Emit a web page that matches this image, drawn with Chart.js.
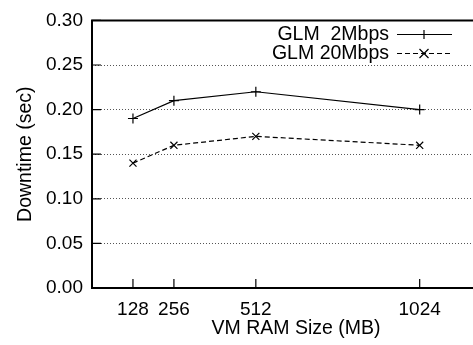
<!DOCTYPE html>
<html>
<head>
<meta charset="utf-8">
<script src="https://cdn.jsdelivr.net/npm/chart.js@4/dist/chart.umd.min.js"></script>
<style>
  html, body { margin: 0; padding: 0; background: #fff; overflow: hidden; }
  #wrap { width: 500px; height: 345px; }
</style>
</head>
<body>
<div id="wrap"><canvas id="downtimeChart" width="500" height="345"></canvas></div>
<script>
// data
const ramSizes = [128, 256, 512, 1024];
const glm2Mbps = [0.19, 0.21, 0.22, 0.20];
const glm20Mbps = [0.14, 0.16, 0.17, 0.16];
const seriesLabels = ['GLM  2Mbps', 'GLM 20Mbps'];
const yTicks = [0, 0.05, 0.10, 0.15, 0.20, 0.25, 0.30];

const FONT = 'Liberation Sans, Arial, Helvetica, sans-serif';

// frame, inward ticks and a gnuplot-like key
const gnuplotStyle = {
    id: 'gnuplotStyle',
    afterDraw: function(chart) {
        const ctx = chart.ctx;
        const a = chart.chartArea;
        const xs = chart.scales.x;
        const ys = chart.scales.y;
        ctx.save();

        // inward tick marks
        ctx.strokeStyle = '#000';
        ctx.lineWidth = 1.2;
        ctx.beginPath();
        yTicks.forEach(function(v) {
            const py = ys.getPixelForValue(v);
            ctx.moveTo(a.left, py);
            ctx.lineTo(a.left + 9, py);
        });
        ramSizes.forEach(function(v) {
            const px = xs.getPixelForValue(v);
            ctx.moveTo(px, a.bottom);
            ctx.lineTo(px, a.bottom - 9);
        });
        ctx.stroke();

        // frame (left, top, bottom)
        ctx.lineWidth = 2;
        ctx.beginPath();
        ctx.moveTo(a.right + 2, a.top);
        ctx.lineTo(a.left, a.top);
        ctx.lineTo(a.left, a.bottom);
        ctx.lineTo(a.right + 2, a.bottom);
        ctx.stroke();

        // key box
        ctx.fillStyle = '#fff';
        ctx.fillRect(271, 22, 192, 41);

        ctx.font = '19.5px ' + FONT;
        ctx.textAlign = 'right';
        ctx.textBaseline = 'middle';
        ctx.fillStyle = '#000';
        chart.data.datasets.forEach(function(ds, i) {
            const yy = 34.5 + i * 19;
            ctx.fillText(ds.label, 389, yy);
            ctx.strokeStyle = ds.borderColor;
            ctx.lineWidth = ds.borderWidth;
            ctx.setLineDash(ds.borderDash || []);
            ctx.beginPath();
            ctx.moveTo(397, yy);
            ctx.lineTo(452, yy);
            ctx.stroke();
            ctx.setLineDash([]);
            const r = 4.5;
            ctx.beginPath();
            if (ds.pointStyle === 'cross') {
                ctx.moveTo(424 - r, yy); ctx.lineTo(424 + r, yy);
                ctx.moveTo(424, yy - r); ctx.lineTo(424, yy + r);
            } else {
                ctx.moveTo(424 - r, yy - r); ctx.lineTo(424 + r, yy + r);
                ctx.moveTo(424 - r, yy + r); ctx.lineTo(424 + r, yy - r);
            }
            ctx.stroke();
        });
        ctx.restore();
    }
};

const ctx = document.getElementById('downtimeChart').getContext('2d');
const chart = new Chart(ctx, {
    type: 'line',
    data: {
        datasets: [{
            label: seriesLabels[0],
            data: ramSizes.map(function(x, i) { return { x: x, y: glm2Mbps[i] }; }),
            borderColor: '#000',
            borderWidth: 1.2,
            pointStyle: 'cross',
            pointRadius: 5,
            pointBorderColor: '#000',
            pointBorderWidth: 1.2,
            fill: false,
            tension: 0
        }, {
            label: seriesLabels[1],
            data: ramSizes.map(function(x, i) { return { x: x, y: glm20Mbps[i] }; }),
            borderColor: '#000',
            borderWidth: 1.2,
            borderDash: [5, 3],
            pointStyle: 'crossRot',
            pointRadius: 5,
            pointBorderColor: '#000',
            pointBorderWidth: 1.2,
            fill: false,
            tension: 0
        }]
    },
    options: {
        responsive: false,
        animation: false,
        layout: { autoPadding: false, padding: { top: 16, right: 0, left: 0, bottom: 0 } },
        scales: {
            x: {
                type: 'linear',
                min: 0,
                max: 1275,
                afterFit: function(s) {
                    s.height = 57;
                    s.paddingLeft = 0;
                    s.paddingRight = 0;
                },
                afterBuildTicks: function(s) {
                    s.ticks = ramSizes.map(function(v) { return { value: v }; });
                },
                grid: { display: false, drawTicks: false },
                border: { display: false },
                ticks: {
                    color: '#000',
                    padding: 10,
                    maxRotation: 0,
                    autoSkip: false,
                    font: { family: FONT, size: 19 },
                    callback: function(v) { return String(v); }
                },
                title: {
                    display: true,
                    text: 'VM RAM Size (MB)',
                    color: '#000',
                    padding: { top: 0, bottom: 5 },
                    font: { family: FONT, size: 19.5 }
                }
            },
            y: {
                min: 0,
                max: 0.3,
                afterFit: function(s) { s.width = 92; },
                afterBuildTicks: function(s) {
                    s.ticks = yTicks.map(function(v) { return { value: v }; });
                },
                grid: {
                    drawTicks: false,
                    lineWidth: 1,
                    color: function(c) {
                        const v = c.tick ? c.tick.value : 0;
                        return (v <= 0.001 || v >= 0.299) ? 'rgba(0,0,0,0)' : '#555';
                    }
                },
                border: { display: false, dash: [1, 2] },
                ticks: {
                    color: '#000',
                    padding: 9,
                    font: { family: FONT, size: 19 },
                    callback: function(v) { return Number(v).toFixed(2); }
                },
                title: {
                    display: true,
                    text: 'Downtime (sec)',
                    color: '#000',
                    padding: { top: 14, bottom: 0 },
                    font: { family: FONT, size: 19.5 }
                }
            }
        },
        plugins: {
            legend: { display: false },
            tooltip: { enabled: false }
        }
    },
    plugins: [gnuplotStyle]
});
</script>
</body>
</html>
